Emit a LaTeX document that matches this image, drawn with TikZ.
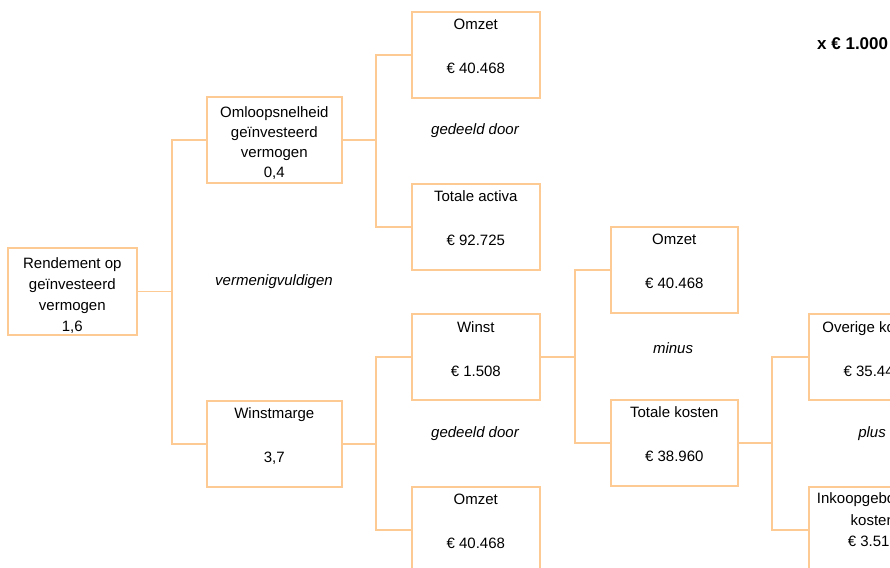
\documentclass[tikz,border=0pt]{standalone}
\usepackage{fontspec}
\setmainfont{Liberation Sans}
\definecolor{boxline}{RGB}{253,202,148}
\begin{document}
\begin{tikzpicture}[x=1pt,y=1pt,
  box/.style={draw=boxline, line width=1.6pt, anchor=north west,
    minimum width=128pt, minimum height=86pt, inner sep=0pt},
  boxtext/.style={anchor=north, align=center, inner sep=0pt,
    font=\fontsize{15}{21.5}\selectfont},
  fourline/.style={font=\fontsize{15}{21}\selectfont},
  op/.style={inner sep=0pt, font=\fontsize{15}{18}\selectfont\itshape},
  link/.style={draw=boxline, line width=1.5pt}]
\useasboundingbox (0,0) rectangle (890,-567);
\clip (0,0) rectangle (890,-567);

% boxes of the ratio tree
\node[box, minimum width=129pt, minimum height=87pt] (rend) at (7,-247) {};
\node[box, minimum width=135pt] (omloop) at (206,-96) {};
\node[box, minimum width=135pt] (winstm) at (206,-400) {};
\node[box] (omzetA) at (411,-11) {};
\node[box] (activa) at (411,-183) {};
\node[box] (winst) at (411,-313) {};
\node[box] (omzetB) at (411,-486) {};
\node[box, minimum width=127pt] (omzetC) at (610,-226) {};
\node[box, minimum width=127pt] (tkosten) at (610,-399) {};
\node[box] (overige) at (808,-313) {};
\node[box] (inkoop) at (808,-486) {};

% box texts
\node[boxtext, fourline] (rend-t) at ([yshift=-10.6pt]rend.north) {Rendement op\\geïnvesteerd\\vermogen\\1,6};
\node[boxtext, font=\fontsize{15}{20}\selectfont] (omloop-t) at ([yshift=-10.6pt]omloop.north) {Omloopsnelheid\\geïnvesteerd\\vermogen\\0,4};
\node[boxtext] (winstm-t) at ([yshift=-7.6pt]winstm.north) {Winstmarge\\[22.5pt]3,7};
\node[boxtext] (omzetA-t) at ([yshift=-7.6pt]omzetA.north) {Omzet\\[22.5pt]€ 40.468};
\node[boxtext] (activa-t) at ([yshift=-7.6pt]activa.north) {Totale activa\\[22.5pt]€ 92.725};
\node[boxtext] (winst-t) at ([yshift=-8.6pt]winst.north) {Winst\\[22.5pt]€ 1.508};
\node[boxtext] (omzetB-t) at ([yshift=-7.6pt]omzetB.north) {Omzet\\[22.5pt]€ 40.468};
\node[boxtext] (omzetC-t) at ([yshift=-7.6pt]omzetC.north) {Omzet\\[22.5pt]€ 40.468};
\node[boxtext] (tkosten-t) at ([yshift=-7.6pt]tkosten.north) {Totale kosten\\[22.5pt]€ 38.960};
\node[boxtext] (overige-t) at ([yshift=-8.6pt]overige.north) {Overige kosten\\[22.5pt]€ 35.445};
\node[boxtext] (inkoop-t) at ([yshift=-6.6pt]inkoop.north) {Inkoopgebonden\\kosten\\€ 3.515};

% operators between the branches
\node[op] (op1) at (274,-282) {vermenigvuldigen};
\node[op] (op2) at (475,-131) {gedeeld door};
\node[op] (op3) at (475,-434) {gedeeld door};
\node[op] (op4) at (673,-348) {minus};
\node[op] (op5) at (872,-434) {plus};

% unit note
\node[anchor=west, inner sep=0pt, font=\fontsize{17}{20}\selectfont\bfseries] (unit) at (817,-43.5) {x € 1.000};

% junction columns
\coordinate (j1) at (172,0);
\coordinate (j2) at (376,0);
\coordinate (j3) at (575,0);
\coordinate (j4) at (772,0);

% connectors
\draw[link, line width=1pt] (rend.east) -- (rend.east -| j1);
\draw[link] (omloop.west) -- (omloop.west -| j1) -- (winstm.west -| j1) -- (winstm.west);
\draw[link] (omloop.east) -- (omloop.east -| j2);
\draw[link] (omzetA.west) -- (omzetA.west -| j2) -- (activa.west -| j2) -- (activa.west);
\draw[link] (winstm.east) -- (winstm.east -| j2);
\draw[link] (winst.west) -- (winst.west -| j2) -- (omzetB.west -| j2) -- (omzetB.west);
\draw[link] (winst.east) -- (winst.east -| j3);
\draw[link] (omzetC.west) -- (omzetC.west -| j3) -- (tkosten.west -| j3) -- (tkosten.west);
\draw[link] (tkosten.east) -- (tkosten.east -| j4);
\draw[link] (overige.west) -- (overige.west -| j4) -- (inkoop.west -| j4) -- (inkoop.west);
\end{tikzpicture}
\end{document}
